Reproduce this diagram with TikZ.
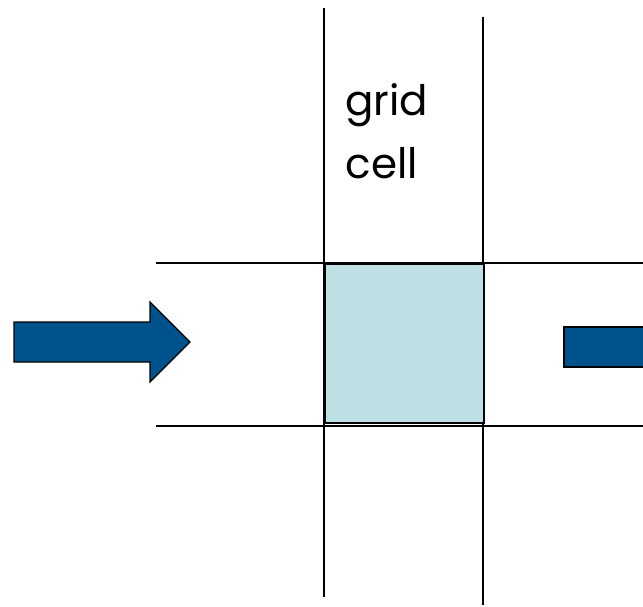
\documentclass[tikz,border=0pt]{standalone}
\usepackage{fontspec}
\setsansfont{Poppins}
\definecolor{cellblue}{RGB}{188,224,228}
\definecolor{arrowblue}{RGB}{0,82,140}
\begin{document}
\begin{tikzpicture}[x=1pt,y=-1pt]
				\useasboundingbox (0,0) rectangle (643,606);
				% grid lines
				\draw[black,line width=1.3pt] (324,8)--(324,597);
				\draw[black,line width=1.3pt] (483,17)--(483,605);
				\draw[black,line width=1.3pt] (156,263)--(643,263);
				\draw[black,line width=1.3pt] (156,426)--(643,426);
				% the cell
				\node[draw=black,fill=cellblue,line width=2pt,minimum width=159pt,minimum height=159pt,inner sep=0pt,anchor=north west] (cell) at (324,263) {};
				\node[anchor=north west,align=left,font=\sffamily\fontsize{42}{63}\selectfont] (label) at (342,80) {grid\\cell};
				% arrows
				\filldraw[fill=arrowblue,draw=black,line width=1.2pt] (14,322)--(150,322)--(150,302)--(190,342)--(150,382)--(150,362)--(14,362)--cycle;
				\filldraw[fill=arrowblue,draw=black,line width=1.5pt] (564,327)--(645,327)--(645,367)--(564,367)--cycle;
			\end{tikzpicture}
\end{document}
